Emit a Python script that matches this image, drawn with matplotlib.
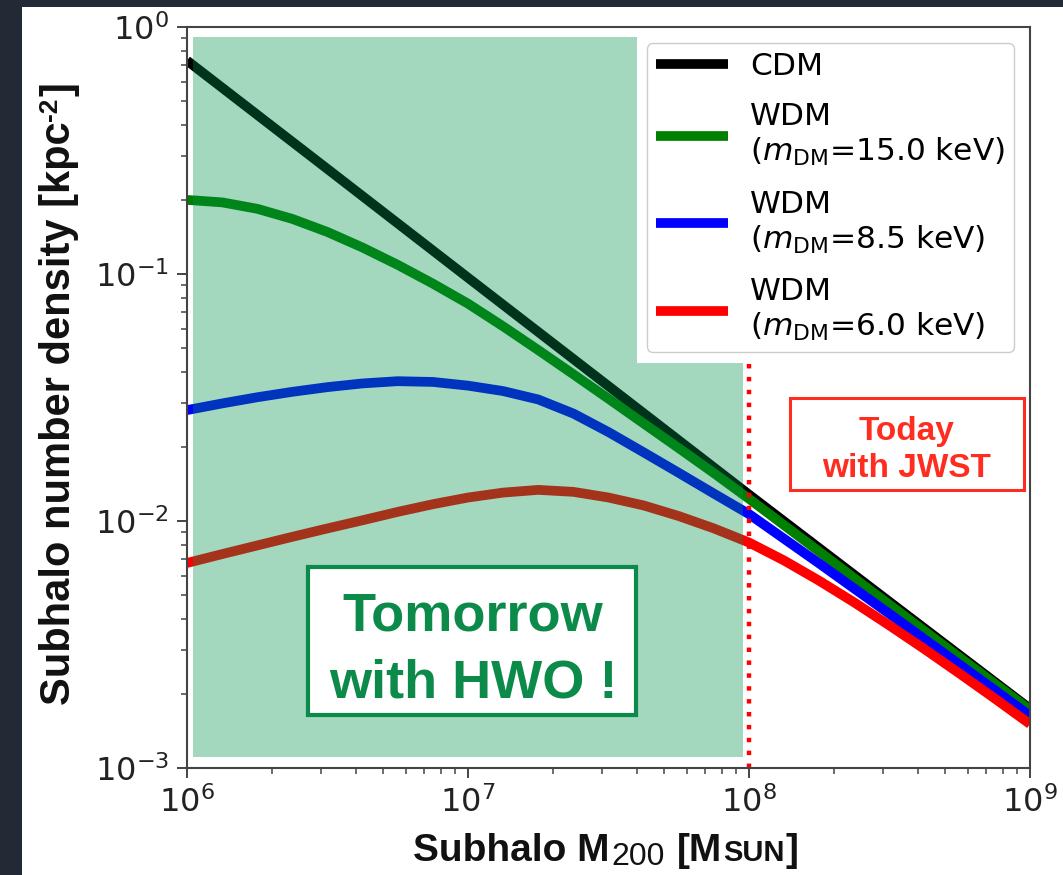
import matplotlib
matplotlib.use("Agg")
import matplotlib.pyplot as plt
from matplotlib.patches import Rectangle, Polygon
from matplotlib.transforms import IdentityTransform

# ---------------- data (log10 values) ----------------
log10_mass_cdm = [6.0, 6.5, 7.0, 7.5, 8.0, 8.5, 9.0]
log10_n_cdm = [-0.136, -0.575, -1.015, -1.454, -1.893, -2.327, -2.760]

log10_mass_wdm = [6.0, 6.125, 6.25, 6.375, 6.5, 6.625, 6.75, 6.875,
                  7.0, 7.125, 7.25, 7.375, 7.5, 7.625, 7.75, 7.875,
                  8.0, 8.125, 8.25, 8.375, 8.5, 8.625, 8.75, 8.875, 9.0]
log10_n_wdm15 = [-0.700, -0.710, -0.736, -0.777, -0.830, -0.893, -0.963, -1.039,
                 -1.120, -1.212, -1.308, -1.406, -1.505, -1.605, -1.705, -1.806,
                 -1.910, -2.017, -2.124, -2.232, -2.339, -2.446, -2.553, -2.659, -2.765]
log10_n_wdm85 = [-1.551, -1.524, -1.499, -1.477, -1.458, -1.443, -1.434, -1.437,
                 -1.452, -1.474, -1.508, -1.565, -1.640, -1.722, -1.805, -1.889,
                 -1.972, -2.072, -2.172, -2.274, -2.376, -2.479, -2.582, -2.685, -2.789]
log10_n_wdm60 = [-2.170, -2.134, -2.099, -2.064, -2.030, -1.997, -1.963, -1.932,
                 -1.905, -1.885, -1.874, -1.882, -1.905, -1.937, -1.980, -2.030,
                 -2.087, -2.160, -2.242, -2.330, -2.423, -2.519, -2.618, -2.719, -2.822]

series_labels = ["CDM",
                 "WDM\n($m_{\\rm DM}$=15.0 keV)",
                 "WDM\n($m_{\\rm DM}$=8.5 keV)",
                 "WDM\n($m_{\\rm DM}$=6.0 keV)"]
series_colors = ["black", "green", "blue", "red"]

x_limits = [1e6, 1e9]
y_limits = [1e-3, 1e0]
jwst_limit_mass = 1e8

# ---------------- figure ----------------
W, H = 1063, 875
fig = plt.figure(figsize=(W / 100, H / 100), dpi=100, facecolor="#232a35")
fig.add_artist(Rectangle((22 / W, 0), 1 - 22 / W, 868 / H, transform=fig.transFigure,
                         facecolor="white", edgecolor="none", zorder=-10))

ax = fig.add_axes([187 / W, 1 - 768 / H, 843 / W, 741 / H])
ax.set_facecolor("white")
ax.set_xscale("log")
ax.set_yscale("log")
ax.set_xlim(x_limits)
ax.set_ylim(y_limits)

curves = [(log10_mass_cdm, log10_n_cdm),
          (log10_mass_wdm, log10_n_wdm15),
          (log10_mass_wdm, log10_n_wdm85),
          (log10_mass_wdm, log10_n_wdm60)]
for (lx, ly), lab, col in zip(curves, series_labels, series_colors):
    ax.plot([10.0 ** v for v in lx], [10.0 ** v for v in ly], color=col, lw=7,
            label=lab, zorder=2, solid_capstyle="butt", solid_joinstyle="round")

# HWO shaded region (with cut-out next to the legend)
shade = Polygon([(0.0071, 0.0148), (0.6596, 0.0148), (0.6596, 0.5466),
                 (0.5338, 0.5466), (0.5338, 0.9865), (0.0071, 0.9865)],
                closed=True, transform=ax.transAxes, facecolor="#00904b",
                alpha=0.36, edgecolor="none", zorder=2.5)
ax.add_patch(shade)

# JWST limit
ax.axvline(jwst_limit_mass, ymin=0, ymax=0.5466, color="red", lw=3.2,
           linestyle=(0, (1.0, 1.9)), zorder=3)

# boxes
ax.add_patch(Rectangle((0.7153, 0.3752), 0.2776, 0.1241, transform=ax.transAxes,
                       facecolor="white", edgecolor="#ff2d1f", lw=2.2, zorder=4))
ax.text(0.854, 0.4426, "Today", transform=ax.transAxes, ha="center", va="baseline",
        fontsize=24, fontweight="bold", family="Liberation Sans", color="#ff2d1f", zorder=4.5)
ax.text(0.854, 0.3927, "with JWST", transform=ax.transAxes, ha="center", va="baseline",
        fontsize=24, fontweight="bold", family="Liberation Sans", color="#ff2d1f", zorder=4.5)

ax.add_patch(Rectangle((0.1435, 0.0715), 0.3891, 0.1998, transform=ax.transAxes,
                       facecolor="white", edgecolor="#0b8a4a", lw=3, zorder=4))
ax.text(0.3393, 0.1862, "Tomorrow", transform=ax.transAxes, ha="center", va="baseline",
        fontsize=39, fontweight="bold", family="Liberation Sans", color="#0b8a4a", zorder=4.5)
ax.text(0.3393, 0.0958, "with HWO !", transform=ax.transAxes, ha="center", va="baseline",
        fontsize=39, fontweight="bold", family="Liberation Sans", color="#0b8a4a", zorder=4.5)

# legend
leg = ax.legend(loc="upper right", fontsize=22.5, handlelength=2.3, handletextpad=0.7,
                framealpha=1, edgecolor="#cccccc", borderaxespad=0.5, borderpad=0.3,
                labelspacing=0.68)
leg.set_zorder(6)

# axes styling
for sp in ax.spines.values():
    sp.set_linewidth(1.5)
    sp.set_color("#444444")
    sp.set_zorder(7)
ax.tick_params(which="major", length=7, width=1.4, labelsize=23, pad=6,
               color="#444444", labelcolor="#222222")
ax.tick_params(which="minor", length=4, width=1.1, color="#444444")


# axis labels built from pieces (plain + sub/superscript parts)
def place_pieces(parts, base, center, rotation):
    renderer = fig.canvas.get_renderer()
    items = []
    total = 0.0
    for s, size, weight, gap, shift in parts:
        t = fig.text(0, 0, s, transform=IdentityTransform(), fontsize=size,
                     fontweight=weight, family="Liberation Sans", color="#111111",
                     ha="left", va="baseline", rotation=rotation, rotation_mode="anchor")
        bb = t.get_window_extent(renderer)
        length = bb.width if rotation == 0 else bb.height
        items.append((t, length, gap, shift))
        total += length + gap
    pos = center - total / 2.0
    for t, length, gap, shift in items:
        pos += gap
        if rotation == 0:
            t.set_position((pos, base + shift))
        else:
            t.set_position((base - shift, pos))
        pos += length


place_pieces([("Subhalo M", 28, "bold", 0, 0),
              ("200", 23, "normal", 2, -4),
              ("[M", 28, "bold", 12, 0),
              ("SUN", 21, "bold", 1, 0),
              ("]", 28, "bold", 1, 0)],
             base=H - 861, center=606, rotation=0)

place_pieces([("Subhalo number density [kpc", 30, "bold", 0, 0),
              ("-2", 19, "bold", 1, 13),
              ("]", 30, "bold", 1, 0)],
             base=70, center=H - 394, rotation=90)

fig.savefig("out.png", dpi=100, facecolor=fig.get_facecolor())
